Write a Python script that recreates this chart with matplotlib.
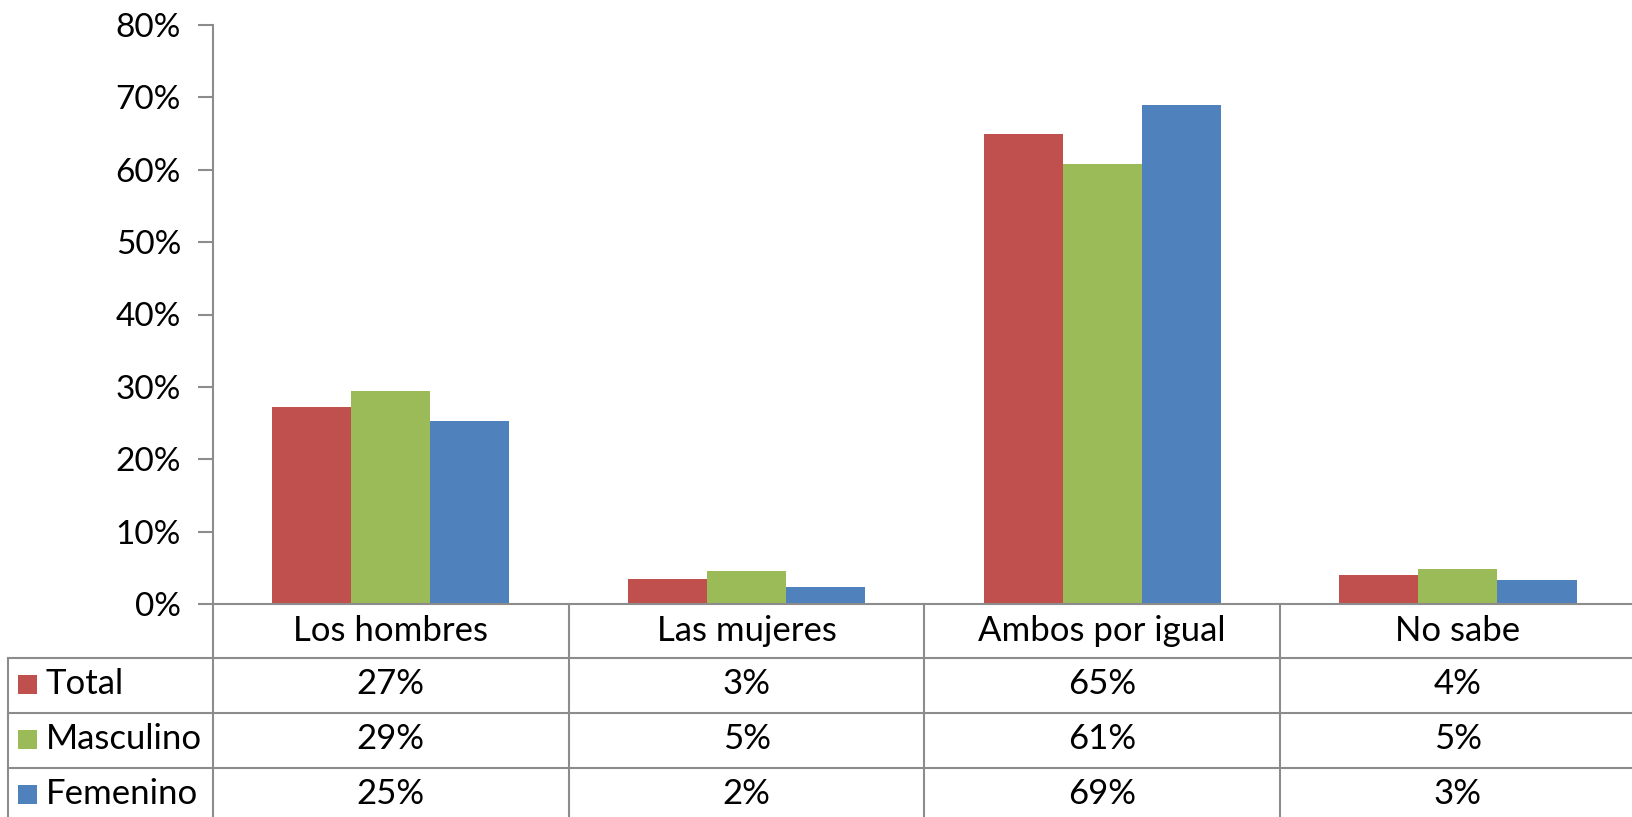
import matplotlib
matplotlib.use("Agg")
import matplotlib.pyplot as plt
import matplotlib.transforms as mtransforms
from matplotlib.lines import Line2D
from matplotlib.patches import Rectangle
import numpy as np

categories = ["Los hombres", "Las mujeres", "Ambos por igual", "No sabe"]
series_names = ["Total", "Masculino", "Femenino"]
total = [27.2, 3.4, 65.0, 4.0]
masculino = [29.4, 4.6, 60.8, 4.8]
femenino = [25.3, 2.3, 68.9, 3.3]
table_total = ["27%", "3%", "65%", "4%"]
table_masc = ["29%", "5%", "61%", "5%"]
table_fem = ["25%", "2%", "69%", "3%"]
yticks = [0, 10, 20, 30, 40, 50, 60, 70, 80]
ytick_labels = ["0%", "10%", "20%", "30%", "40%", "50%", "60%", "70%", "80%"]

colors = ["#C0504D", "#9BBB59", "#4F81BD"]
grid_col = "#8C8C8C"

plt.rcParams['font.family'] = ['Lato', 'DejaVu Sans']

W, H = 1633, 817
fig = plt.figure(figsize=(W / 100, H / 100), dpi=100)

x_left = 213
cat_w = 355.7
y0 = 604
y80 = 25
ax = fig.add_axes([x_left / W, (H - y0) / H, 4 * cat_w / W, (y0 - y80) / H])

series = [total, masculino, femenino]
x = np.arange(len(categories))
bw = 1 / 4.5
for i, (vals, col) in enumerate(zip(series, colors)):
    ax.bar(x + (i - 1) * bw, vals, width=bw, color=col, edgecolor='none', zorder=2)

ax.set_xlim(-0.5, 3.5)
ax.set_ylim(0, 80)
ax.set_yticks(yticks)
ax.set_yticklabels(ytick_labels, fontsize=24)
ax.tick_params(axis='y', length=11, width=1.5, color=grid_col, pad=12)
ax.set_xticks([])
for s in ['top', 'right']:
    ax.spines[s].set_visible(False)
ax.spines['left'].set_color(grid_col)
ax.spines['left'].set_linewidth(1.5)
ax.spines['bottom'].set_color(grid_col)
ax.spines['bottom'].set_linewidth(1.5)

def fx(px):
    return px / W

def fy(py):
    return (H - py) / H

FS = 25
row_lines = [658, 713, 768, 823]
tbl_left = 8
lw = 1.5
trans_xdata_yfig = mtransforms.blended_transform_factory(ax.transData, fig.transFigure)
for k in range(len(categories) + 1):
    xb = k - 0.5
    fig.add_artist(Line2D([xb, xb], [fy(y0), fy(H + 10)], transform=trans_xdata_yfig,
                          color=grid_col, lw=lw, clip_on=False))
fig.add_artist(Line2D([fx(tbl_left), fx(tbl_left)], [fy(row_lines[0]), fy(H + 10)],
                      transform=fig.transFigure, color=grid_col, lw=lw))
for yl in row_lines[:3]:
    fig.add_artist(Line2D([fx(tbl_left), 1.0], [fy(yl), fy(yl)],
                          transform=fig.transFigure, color=grid_col, lw=lw))

header_y = 631
for k, c in enumerate(categories):
    ax.text(k, fy(header_y), c, transform=trans_xdata_yfig, ha='center', va='center',
            fontsize=FS, clip_on=False)

table_rows = [table_total, table_masc, table_fem]
row_centers = [684, 739, 794]
for r, (name, col, vals, yc) in enumerate(zip(series_names, colors, table_rows, row_centers)):
    fig.add_artist(Rectangle((fx(18), fy(yc + 10)), fx(19), 19 / H,
                             transform=fig.transFigure, facecolor=col, edgecolor='none'))
    fig.text(fx(46), fy(yc), name, ha='left', va='center', fontsize=FS)
    for k, v in enumerate(vals):
        ax.text(k, fy(yc), v, transform=trans_xdata_yfig, ha='center', va='center',
                fontsize=FS, clip_on=False)

fig.savefig("out.png", dpi=100)
